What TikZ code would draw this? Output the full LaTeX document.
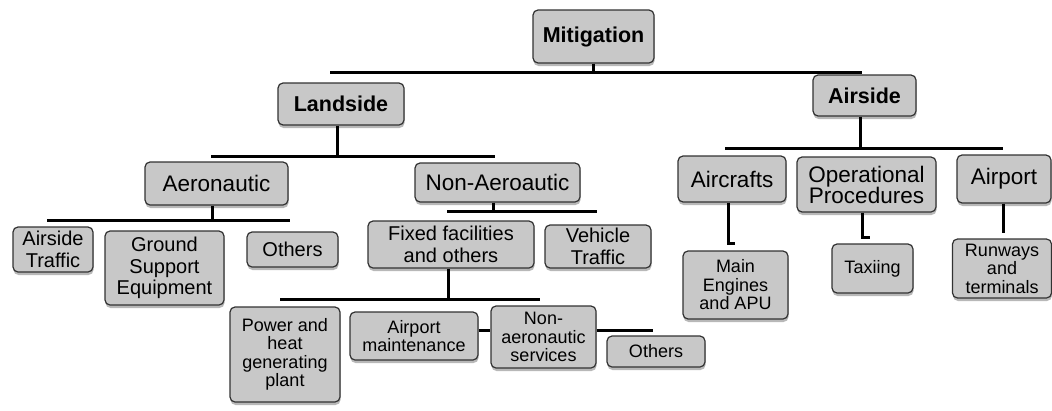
\documentclass[tikz,border=0pt]{standalone}
\usepackage{fontspec}
\setmainfont{Liberation Sans}
\usetikzlibrary{shadows}
\definecolor{boxfill}{RGB}{200,200,200}
\definecolor{boxline}{RGB}{50,50,50}
\tikzset{
  box/.style={draw=boxline, line width=1.2pt, fill=boxfill, rounded corners=5pt,
    align=center, inner sep=1pt,
    drop shadow={shadow xshift=0.5pt, shadow yshift=-3pt, fill=black!35, opacity=0.8}},
  f1/.style={font=\fontsize{21.5}{22}\selectfont\bfseries},
  f2/.style={font=\fontsize{22.5}{21}\selectfont},
  f3/.style={font=\fontsize{20}{21.5}\selectfont},
  f4/.style={font=\fontsize{18}{18.5}\selectfont},
  conn/.style={line width=3pt, black},
}
\begin{document}
\begin{tikzpicture}[x=1pt,y=-1pt]
\useasboundingbox (0,0) rectangle (1052,410);
% level 0/1
\node[box,f1,minimum width=121pt,minimum height=53pt] (mit) at (593.5,36.5) {Mitigation};
\node[box,f1,minimum width=126pt,minimum height=42pt] (land) at (341,104) {Landside};
\node[box,f1,minimum width=103pt,minimum height=41pt] (air) at (864.5,95.5) {Airside};
% level 2
\node[box,f2,minimum width=143pt,minimum height=43pt] (aero) at (216.5,183.5) {Aeronautic};
\node[box,f2,minimum width=165pt,minimum height=39pt] (nonaero) at (497.5,182.5) {Non-Aeroautic};
\node[box,f2,minimum width=108pt,minimum height=46pt] (acft) at (732,179) {Aircrafts};
\node[box,f2,minimum width=139pt,minimum height=55pt] (ops) at (866.5,184.5) {Operational\\Procedures};
\node[box,f2,minimum width=94pt,minimum height=48pt] (airport) at (1004,179) {Airport};
% level 3
\node[box,f3,minimum width=80pt,minimum height=45pt] (ast) at (53,249.5) {Airside\\Traffic};
\node[box,f3,minimum width=119pt,minimum height=74pt] (gse) at (164.5,268) {Ground\\Support\\Equipment};
\node[box,f3,minimum width=91pt,minimum height=35pt] (oth1) at (292.5,249.5) {Others};
\node[box,f3,minimum width=166pt,minimum height=47pt] (fixed) at (451,244.5) {Fixed facilities\\and others};
\node[box,f3,minimum width=106pt,minimum height=43pt] (veh) at (598,246.5) {Vehicle\\Traffic};
\node[box,f4,minimum width=105pt,minimum height=68pt] (eng) at (735.5,285) {Main\\Engines\\and APU};
\node[box,f4,minimum width=81pt,minimum height=49pt] (tax) at (872.5,268.5) {Taxiing};
\node[box,f4,minimum width=99pt,minimum height=59pt] (run) at (1002,268.5) {Runways\\and\\terminals};
% level 4
\node[box,f4,minimum width=110pt,minimum height=95pt] (power) at (285,354.5) {Power and\\heat\\generating\\plant};
\node[box,f4,minimum width=128pt,minimum height=48pt] (maint) at (414,336) {Airport\\maintenance};
\node[box,f4,minimum width=105pt,minimum height=62pt] (nas) at (543.5,337) {Non-\\aeronautic\\services};
\node[box,f4,minimum width=98pt,minimum height=31pt] (oth2) at (656,351.5) {Others};
% bus coordinates
\coordinate (b1L) at (330,72);   \coordinate (b1R) at (862,72);
\coordinate (b2L) at (211,156);  \coordinate (b2R) at (495,156);
\coordinate (b3L) at (47,220);   \coordinate (b3R) at (290,220);
\coordinate (b4L) at (447,211);  \coordinate (b4R) at (597,211);
\coordinate (b5L) at (280,299);  \coordinate (b5R) at (540,299);
\coordinate (b6L) at (725,148);  \coordinate (b6R) at (1003,148);
\coordinate (b7) at (653,330);
% connectors
\draw[conn] (mit.south) -- (mit.south |- b1L);
\draw[conn] (b1L) -- (b1R);
\draw[conn] ([xshift=-4pt]land.south) -- ([xshift=-4pt]land.south |- b2L);
\draw[conn] (b2L) -- (b2R);
\draw[conn] ([xshift=-4pt]aero.south) -- ([xshift=-4pt]aero.south |- b3L);
\draw[conn] (b3L) -- (b3R);
\draw[conn] ([xshift=-4pt]nonaero.south) -- ([xshift=-4pt]nonaero.south |- b4L);
\draw[conn] (b4L) -- (b4R);
\draw[conn] ([xshift=-3pt]fixed.south) -- ([xshift=-3pt]fixed.south |- b5L);
\draw[conn] (b5L) -- (b5R);
\draw[conn] (maint.east |- b7) -- (nas.west |- b7);
\draw[conn] (nas.east |- b7) -- (b7);
\draw[conn] ([xshift=-4pt]air.south) -- ([xshift=-4pt]air.south |- b6L);
\draw[conn] (b6L) -- (b6R);
\draw[conn] ([xshift=-4pt]acft.south) -- ++(0,41) -- ++(7,0);
\draw[conn] ([xshift=-4.5pt]ops.south) -- ++(0,25) -- ++(8,0);
\draw[conn] ([xshift=-1pt]airport.south) -- ++(0,29);
\end{tikzpicture}
\end{document}
